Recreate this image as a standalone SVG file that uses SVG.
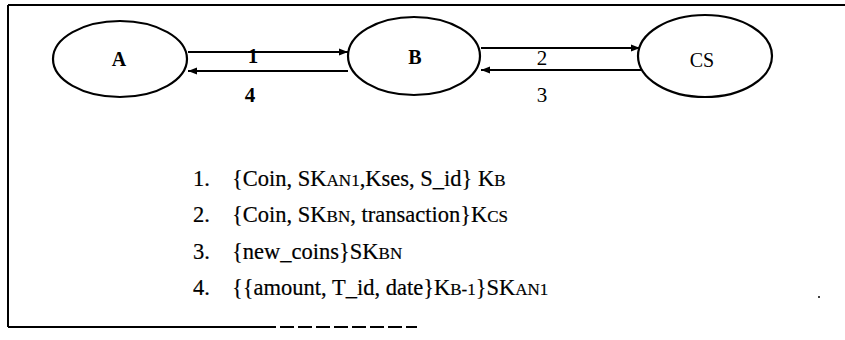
<svg xmlns="http://www.w3.org/2000/svg" width="845" height="340" viewBox="0 0 845 340">
<style>
.frame{fill:none;stroke:#000;stroke-width:2}
.node{fill:#fff;stroke:#000;stroke-width:2.2}
.lbl{font-family:"Liberation Serif",serif;font-size:20px;fill:#000;text-anchor:middle}
.b{font-weight:bold}
.conn{stroke:#000;stroke-width:2;fill:none}
.num{font-family:"Liberation Serif",serif;font-size:21px;fill:#000;text-anchor:middle}
.item{font-family:"Liberation Serif",serif;font-size:22.5px;fill:#000;stroke:#000;stroke-width:0.2}
.sc{font-size:17px}
</style>
<defs>
<marker id="ah" viewBox="0 0 10 10" refX="10" refY="5" markerWidth="9" markerHeight="9" markerUnits="userSpaceOnUse" orient="auto">
<path d="M0,1 L10,5 L0,9 Z" fill="#000"/>
</marker>
</defs>
<g id="frame">
<line class="frame" x1="8" y1="5" x2="845" y2="5"/>
<line class="frame" x1="8" y1="5" x2="8" y2="327"/>
<line class="frame" x1="8" y1="327" x2="262" y2="327"/>
<line class="frame" x1="262" y1="327" x2="417" y2="327" stroke-dasharray="14 4"/>
</g>
<g id="connectors">
<line class="conn" x1="188" y1="52" x2="348" y2="52" marker-end="url(#ah)"/>
<line class="conn" x1="348" y1="71" x2="188" y2="71" marker-end="url(#ah)"/>
<line class="conn" x1="481" y1="48" x2="640" y2="48" marker-end="url(#ah)"/>
<line class="conn" x1="642" y1="70" x2="481" y2="70" marker-end="url(#ah)"/>
<text class="num b" x="253" y="63">1</text>
<text class="num b" x="250" y="102">4</text>
<text class="num" x="542" y="65">2</text>
<text class="num" x="542" y="102">3</text>
</g>
<g id="A">
<ellipse class="node" cx="120" cy="59" rx="67" ry="38"/>
<text class="lbl b" x="119" y="66">A</text>
</g>
<g id="B">
<ellipse class="node" cx="414" cy="56" rx="66" ry="39"/>
<text class="lbl b" x="415" y="64">B</text>
</g>
<g id="CS">
<ellipse class="node" cx="705" cy="56" rx="67" ry="41"/>
<text class="lbl" x="702" y="67">CS</text>
</g>
<g id="list">
<text class="item" x="193" y="186">1.</text>
<text class="item" x="232" y="186">{Coin, SK<tspan class="sc">AN1</tspan>,Kses, S_id} K<tspan class="sc">B</tspan></text>
<text class="item" x="193" y="222">2.</text>
<text class="item" x="232" y="222">{Coin, SK<tspan class="sc">BN</tspan>, transaction}K<tspan class="sc">CS</tspan></text>
<text class="item" x="193" y="259">3.</text>
<text class="item" x="232" y="259">{new_coins}SK<tspan class="sc">BN</tspan></text>
<text class="item" x="193" y="295">4.</text>
<text class="item" x="232" y="295">{{amount, T_id, date}K<tspan class="sc">B-1</tspan>}SK<tspan class="sc">AN1</tspan></text>
</g>
<circle cx="819" cy="297" r="1" fill="#000"/>
</svg>
